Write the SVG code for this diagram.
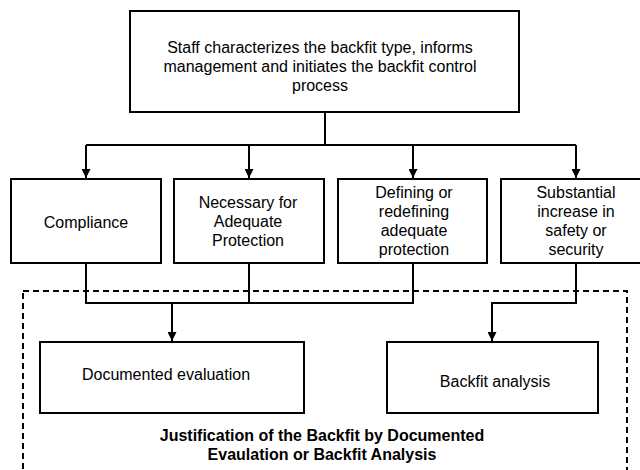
<svg xmlns="http://www.w3.org/2000/svg" width="640" height="470" viewBox="0 0 640 470">
  <style>
    .box { fill: #ffffff; stroke: #000000; stroke-width: 2; }
    .conn { fill: none; stroke: #000000; stroke-width: 2; }
    .dash { fill: none; stroke: #000000; stroke-width: 2; stroke-dasharray: 6 4; }
    .t { font-family: "Liberation Sans", Arial, sans-serif; font-size: 16px; fill: #000000; text-anchor: middle; }
    .b { font-weight: bold; }
  </style>
  <defs>
    <marker id="arrow" viewBox="0 0 10 10" refX="10" refY="5" markerWidth="9" markerHeight="9" markerUnits="userSpaceOnUse" orient="auto">
      <path d="M0,0 L10,5 L0,10 z" fill="#000000"/>
    </marker>
  </defs>
  <rect width="640" height="470" fill="#ffffff"/>

  <g id="group-justification">
    <rect class="dash" x="23" y="291" width="604" height="200"/>
    <text class="t b" x="322" y="441">Justification of the Backfit by Documented</text>
    <text class="t b" x="322" y="460">Evaulation or Backfit Analysis</text>
  </g>

  <g id="connectors">
    <path class="conn" d="M325,112 V145"/>
    <path class="conn" d="M86,145 H576"/>
    <path class="conn" d="M86,145 V178" marker-end="url(#arrow)"/>
    <path class="conn" d="M249,145 V178" marker-end="url(#arrow)"/>
    <path class="conn" d="M413,145 V178" marker-end="url(#arrow)"/>
    <path class="conn" d="M576,145 V178" marker-end="url(#arrow)"/>
    <path class="conn" d="M86,263 V303 H413 V263"/>
    <path class="conn" d="M249,263 V303"/>
    <path class="conn" d="M172,303 V341" marker-end="url(#arrow)"/>
    <path class="conn" d="M576,263 V303 H492 V341" marker-end="url(#arrow)"/>
  </g>

  <g id="node-staff">
    <rect class="box" x="130" y="11" width="389" height="101"/>
    <text class="t" x="320" y="53">Staff characterizes the backfit type, informs</text>
    <text class="t" x="320" y="72">management and initiates the backfit control</text>
    <text class="t" x="320" y="91">process</text>
  </g>

  <g id="node-compliance">
    <rect class="box" x="11" y="179" width="150" height="84"/>
    <text class="t" x="86" y="228">Compliance</text>
  </g>

  <g id="node-necessary">
    <rect class="box" x="174" y="179" width="150" height="84"/>
    <text class="t" x="248" y="208">Necessary for</text>
    <text class="t" x="248" y="227">Adequate</text>
    <text class="t" x="248" y="246">Protection</text>
  </g>

  <g id="node-defining">
    <rect class="box" x="338" y="179" width="149" height="84"/>
    <text class="t" x="414" y="198">Defining or</text>
    <text class="t" x="414" y="217">redefining</text>
    <text class="t" x="414" y="236">adequate</text>
    <text class="t" x="414" y="255">protection</text>
  </g>

  <g id="node-substantial">
    <rect class="box" x="501" y="179" width="150" height="84"/>
    <text class="t" x="576" y="198">Substantial</text>
    <text class="t" x="576" y="217">increase in</text>
    <text class="t" x="576" y="236">safety or</text>
    <text class="t" x="576" y="255">security</text>
  </g>

  <g id="node-documented">
    <rect class="box" x="40" y="342" width="264" height="71"/>
    <text class="t" x="166" y="380">Documented evaluation</text>
  </g>

  <g id="node-backfit">
    <rect class="box" x="387" y="342" width="211" height="71"/>
    <text class="t" x="495" y="387">Backfit analysis</text>
  </g>
</svg>
